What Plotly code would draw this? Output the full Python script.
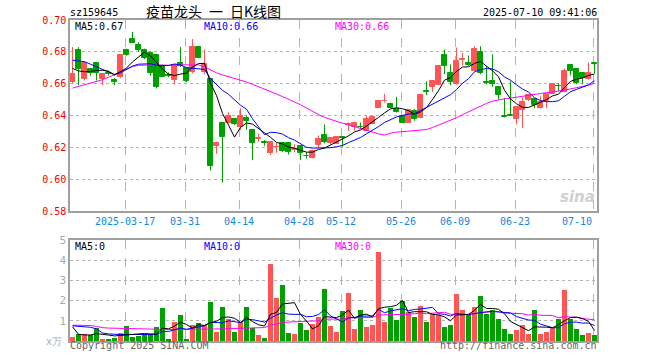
import plotly.graph_objects as go
import pandas as pd
import numpy as np

# ---------------- data ----------------
opens = [0.661, 0.681, 0.663, 0.669, 0.673, 0.663, 0.667, 0.6625, 0.6645, 0.681,
         0.688, 0.6845, 0.681, 0.6795, 0.678, 0.671, 0.6655, 0.662, 0.673, 0.670,
         0.6675, 0.683, 0.6675, 0.663, 0.621, 0.635, 0.6355, 0.6375, 0.6325, 0.6385,
         0.631, 0.625, 0.6232, 0.6167, 0.620, 0.623, 0.6225, 0.6185, 0.621, 0.6148,
         0.6131, 0.6213, 0.6275, 0.6225, 0.6222, 0.6265, 0.6342, 0.6325, 0.6328, 0.6304,
         0.6346, 0.645, 0.649, 0.6471, 0.644, 0.6398, 0.6356, 0.6429, 0.6387, 0.6554,
         0.658, 0.659, 0.6777, 0.667, 0.6598, 0.6748, 0.6733, 0.6677, 0.6798, 0.6608,
         0.6615, 0.6577, 0.6394, 0.6402, 0.638, 0.6433, 0.6495, 0.6502, 0.6446, 0.649,
         0.6537, 0.6585, 0.6548, 0.6715, 0.6694, 0.6665, 0.663, 0.6727]
highs = [0.683, 0.683, 0.674, 0.670, 0.673, 0.666, 0.668, 0.6635, 0.678, 0.682,
         0.6925, 0.686, 0.682, 0.680, 0.678, 0.672, 0.667, 0.672, 0.683, 0.6705,
         0.688, 0.683, 0.6815, 0.6635, 0.6235, 0.6355, 0.642, 0.638, 0.6445, 0.640,
         0.6315, 0.6285, 0.6245, 0.6235, 0.623, 0.6235, 0.623, 0.622, 0.6215, 0.617,
         0.6185, 0.6275, 0.6344, 0.6265, 0.6265, 0.6265, 0.6357, 0.6358, 0.6356, 0.6396,
         0.6398, 0.6496, 0.6537, 0.6481, 0.6517, 0.6398, 0.644, 0.644, 0.6537, 0.6615,
         0.6615, 0.6708, 0.6813, 0.672, 0.6827, 0.6792, 0.6777, 0.6835, 0.6835, 0.671,
         0.6785, 0.6577, 0.651, 0.6615, 0.6458, 0.6512, 0.6527, 0.6502, 0.652, 0.6537,
         0.6598, 0.6604, 0.6694, 0.672, 0.6694, 0.6667, 0.6733, 0.6731]
lows = [0.660, 0.659, 0.662, 0.665, 0.662, 0.659, 0.665, 0.659, 0.6635, 0.6775,
        0.6855, 0.680, 0.6755, 0.665, 0.657, 0.664, 0.664, 0.6595, 0.6705, 0.661,
        0.6665, 0.676, 0.666, 0.6055, 0.616, 0.598, 0.635, 0.634, 0.631, 0.631,
        0.612, 0.6235, 0.621, 0.6152, 0.6167, 0.617, 0.6155, 0.617, 0.612, 0.613,
        0.613, 0.620, 0.6225, 0.622, 0.622, 0.6205, 0.6304, 0.6304, 0.6315, 0.6302,
        0.6346, 0.6446, 0.6481, 0.6446, 0.6419, 0.6356, 0.6356, 0.6367, 0.6387, 0.6529,
        0.6548, 0.659, 0.666, 0.659, 0.6594, 0.6715, 0.6713, 0.6677, 0.666, 0.6595,
        0.658, 0.650, 0.6388, 0.6398, 0.6345, 0.632, 0.6492, 0.6446, 0.6446, 0.6446,
        0.6535, 0.6552, 0.6545, 0.6652, 0.6596, 0.6596, 0.6625, 0.6665]
closes = [0.666, 0.669, 0.673, 0.667, 0.667, 0.666, 0.666, 0.661, 0.678, 0.678,
          0.6855, 0.681, 0.676, 0.6665, 0.658, 0.6645, 0.665, 0.6715, 0.671, 0.6615,
          0.683, 0.676, 0.6725, 0.6085, 0.623, 0.6265, 0.6395, 0.6345, 0.6395, 0.6365,
          0.623, 0.626, 0.6228, 0.6233, 0.6205, 0.6177, 0.617, 0.619, 0.6167, 0.6145,
          0.6177, 0.6254, 0.6233, 0.626, 0.6262, 0.626, 0.6346, 0.6354, 0.6325, 0.6381,
          0.6388, 0.6492, 0.6494, 0.645, 0.6419, 0.6356, 0.6433, 0.6377, 0.6529, 0.655,
          0.6615, 0.6708, 0.6708, 0.661, 0.6744, 0.6752, 0.6715, 0.6815, 0.667, 0.6605,
          0.660, 0.6527, 0.639, 0.6398, 0.6454, 0.6485, 0.6527, 0.6467, 0.6485, 0.6537,
          0.6598, 0.6583, 0.6677, 0.6677, 0.6604, 0.6635, 0.6665, 0.6725]
volumes = [0.2, 0.33, 0.37, 0.28, 0.65, 0.08, 0.1, 0.15, 0.4, 0.73,
           0.2, 0.25, 0.28, 0.28, 0.7, 1.65, 0.1, 0.95, 1.28, 0.1,
           0.8, 0.9, 0.78, 1.95, 0.45, 1.7, 1.08, 0.45, 0.92, 1.7,
           0.65, 0.3, 0.13, 3.83, 2.15, 2.78, 0.4, 0.33, 0.9, 0.53,
           0.83, 1.2, 2.58, 0.73, 0.45, 1.48, 2.38, 0.58, 1.53, 0.68,
           0.78, 4.43, 0.95, 1.65, 1.03, 1.98, 1.42, 1.18, 1.73, 0.93,
           1.35, 1.28, 0.68, 0.78, 2.33, 1.53, 1.28, 1.68, 2.23, 1.33,
           1.53, 1.08, 0.58, 0.33, 0.53, 0.78, 0.33, 1.53, 0.33, 0.45,
           0.65, 1.08, 2.53, 1.08, 0.58, 0.28, 0.38, 0.28]

# moving-average values at the left edge (they depend on days before the window)
ma5_head = [0.6696, 0.6680, 0.6675, 0.6675]
ma10_head = [0.6748, 0.6745, 0.6738, 0.6722, 0.6705, 0.6688, 0.6672, 0.6658, 0.6668]
ma30_head = [0.6572, 0.6582, 0.6592, 0.6602, 0.6612, 0.6625, 0.6640, 0.6658, 0.6675, 0.6692,
             0.6708, 0.6715, 0.6718, 0.6718, 0.6716, 0.6715, 0.6715, 0.6716, 0.6718, 0.6718,
             0.6720, 0.6718, 0.6705, 0.6685, 0.6668, 0.6655, 0.6645, 0.6635, 0.6622]
vma5_head = [0.70, 0.33, 0.30, 0.30]
vma10_head = [0.75, 0.72, 0.70, 0.68, 0.60, 0.40, 0.35, 0.33, 0.32]
vma30_head = [0.78, 0.78, 0.78, 0.77, 0.72, 0.66, 0.64, 0.63, 0.62, 0.61,
              0.60, 0.59, 0.58, 0.58, 0.57, 0.57, 0.57, 0.57, 0.57, 0.57,
              0.57, 0.57, 0.58, 0.58, 0.59, 0.60, 0.61, 0.62, 0.63]

tick_index = [9, 19, 28, 38, 45, 55, 64, 74, 87]
tick_labels = ['2025-03-17', '03-31', '04-14', '04-28', '05-12', '05-26', '06-09', '06-23', '07-10']
price_ticks = [0.58, 0.60, 0.62, 0.64, 0.66, 0.68, 0.70]
vol_ticks = [1, 2, 3, 4, 5]

# ---------------- derived ----------------
n = len(closes)
idx = np.arange(n)
o = np.array(opens); h = np.array(highs); l = np.array(lows); c = np.array(closes)
v = np.array(volumes)
up = c >= o

def ma(series, w, head):
    m = pd.Series(series).rolling(w).mean().to_numpy()
    m[:len(head)] = head
    return m

ma5 = ma(c, 5, ma5_head); ma10 = ma(c, 10, ma10_head); ma30 = ma(c, 30, ma30_head)
vma5 = ma(v, 5, vma5_head); vma10 = ma(v, 10, vma10_head); vma30 = ma(v, 30, vma30_head)

RED = '#ff5555'
GREEN = '#00a000'
MONO = 'DejaVu Sans Mono'

fig = go.Figure()

# wicks
for mask, col in ((up, RED), (~up, GREEN)):
    xs, ys = [], []
    for i in idx[mask]:
        xs += [i, i, None]
        ys += [l[i], h[i], None]
    fig.add_trace(go.Scatter(x=xs, y=ys, mode='lines', line=dict(color=col, width=1),
                             hoverinfo='skip', xaxis='x', yaxis='y'))
# bodies
for mask, col in ((up, RED), (~up, GREEN)):
    base = np.minimum(o, c)[mask]
    hgt = np.abs(c - o)[mask]
    fig.add_trace(go.Bar(x=idx[mask], y=hgt, base=base, width=0.68,
                         marker=dict(color=col, line=dict(color=col, width=1)),
                         xaxis='x', yaxis='y'))
# price MAs
for m, col in ((ma30, '#ff00ff'), (ma10, '#0000ff'), (ma5, '#000000')):
    fig.add_trace(go.Scatter(x=idx, y=m, mode='lines', line=dict(color=col, width=1),
                             xaxis='x', yaxis='y'))

# volume bars
for mask, col in ((up, RED), (~up, GREEN)):
    fig.add_trace(go.Bar(x=idx[mask], y=v[mask], width=0.84,
                         marker=dict(color=col, line=dict(width=0)),
                         xaxis='x2', yaxis='y2'))
for m, col in ((vma30, '#ff00ff'), (vma10, '#0000ff'), (vma5, '#000000')):
    fig.add_trace(go.Scatter(x=idx, y=m, mode='lines', line=dict(color=col, width=1),
                             xaxis='x2', yaxis='y2'))

L, R, T, B = 70, 63, 20, 19
W, H = 660, 360
PW, PH = W - L - R, H - T - B

def px(x):
    return (x - L) / PW

def py(y):
    return (H - B - y) / PH

xr = [-0.4167, n - 0.5833]
gridc = '#b4b4b4'
framec = '#a0a0a0'
tv = [t - 0.25 for t in tick_index]

fig.update_layout(
    width=W, height=H, margin=dict(l=L, r=R, t=T, b=B),
    paper_bgcolor='white', plot_bgcolor='white', showlegend=False,
    barmode='overlay', bargap=0,
    xaxis=dict(domain=[0, 1], range=xr, anchor='y', tickvals=tv, showticklabels=False,
               showgrid=True, gridcolor=gridc, griddash='dash', gridwidth=1,
               showline=True, mirror=True, linecolor=framec, linewidth=1.5,
               zeroline=False, ticks=''),
    yaxis=dict(domain=[py(211), 1], range=[0.58, 0.70], anchor='x', tickvals=price_ticks,
               ticktext=['%.2f' % t for t in price_ticks],
               showgrid=True, gridcolor=gridc, griddash='dot', gridwidth=1,
               showline=True, mirror=True, linecolor=framec, linewidth=1.5,
               zeroline=False, ticks='', tickfont=dict(family=MONO, size=10, color='#ee0000')),
    xaxis2=dict(domain=[0, 1], range=xr, anchor='y2', tickvals=tv, showticklabels=False,
                showgrid=True, gridcolor=gridc, griddash='dash', gridwidth=1,
                showline=True, mirror=True, linecolor=framec, linewidth=1.5,
                zeroline=False, ticks=''),
    yaxis2=dict(domain=[0, py(240)], range=[0, 5], anchor='x2', tickvals=vol_ticks,
                ticktext=[str(t) for t in vol_ticks],
                showgrid=True, gridcolor=gridc, griddash='dot', gridwidth=1,
                showline=True, mirror=True, linecolor=framec, linewidth=1.5,
                zeroline=False, ticks='', tickfont=dict(family=MONO, size=11, color='#aaaaaa')),
)

# date labels under the price panel (last one kept inside the frame)
for k, (t, lab) in enumerate(zip(tv, tick_labels)):
    last = k == len(tv) - 1
    fig.add_annotation(text=lab, x=t, y=py(221.5), xref='x', yref='paper',
                       xanchor='right' if last else 'center', yanchor='middle',
                       showarrow=False, borderpad=0,
                       font=dict(family=MONO, size=10, color='#1188dd'))

def ann(text, x, y, color, size=10, xanchor='left', family=MONO, **kw):
    fig.add_annotation(text=text, x=px(x), y=py(y), xref='paper', yref='paper',
                       xanchor=xanchor, yanchor='middle', showarrow=False,
                       font=dict(family=family, size=size, color=color), borderpad=0, **kw)

ann('sz159645', 69, 12.5, '#000000', size=10)
ann('疫苗龙头\u2002一\u2002日K线图', 213, 11, '#000000', size=14, xanchor='center',
    family='Noto Sans CJK SC')
ann('2025-07-10 09:41:06', 598, 12.5, '#000000', size=10, xanchor='right')
ann('MA5:0.67', 74, 26, '#000000')
ann('MA10:0.66', 203, 26, '#0000ff')
ann('MA30:0.66', 334, 26, '#ff00ff')
ann('MA5:0', 74, 246.5, '#000000')
ann('MA10:0', 203, 246.5, '#0000ff')
ann('MA30:0', 334, 246.5, '#ff00ff')
ann('x万', 63, 341, '#aaaaaa', size=10, xanchor='right')
ann('Copyright 2025 SINA.COM', 69, 345.5, '#666666')
ann('http://finance.sina.com.cn', 598, 345.5, '#666666', xanchor='right')
ann('<b><i>sina</i></b>', 596, 197, '#d0d0d0', size=15, xanchor='right', family='DejaVu Sans')

fig.write_html('out.html', config={'displayModeBar': False},
               post_script="document.body.style.margin='0';document.body.style.padding='0';"
                           "document.documentElement.style.overflow='hidden';")
